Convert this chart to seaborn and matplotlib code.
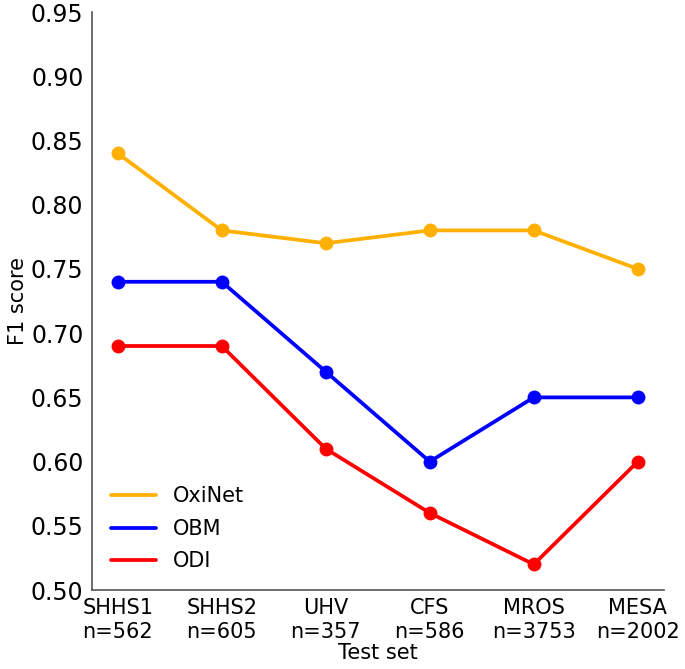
import pandas as pd
import matplotlib
matplotlib.use("Agg")
import matplotlib.pyplot as plt
import seaborn as sns
from matplotlib.lines import Line2D

# Dados
test_sets = ['SHHS1', 'SHHS2', 'UHV', 'CFS', 'MROS', 'MESA']
n_counts = [562, 605, 357, 586, 3753, 2002]
oxinet = [0.84, 0.78, 0.77, 0.78, 0.78, 0.75]
obm = [0.74, 0.74, 0.67, 0.60, 0.65, 0.65]
odi = [0.69, 0.69, 0.61, 0.56, 0.52, 0.60]

methods = ['OxiNet', 'OBM', 'ODI']
colors = ['#FFB000', '#0000FF', '#FF0000']

rows = []
for name, vals in zip(methods, [oxinet, obm, odi]):
    for i, v in enumerate(vals):
        rows.append({'idx': i, 'score': v, 'method': name})
df = pd.DataFrame(rows)

sns.set_style('white')
plt.rcParams['font.family'] = ['DejaVu Sans']
plt.rcParams['text.color'] = 'black'
plt.rcParams['axes.labelcolor'] = 'black'
plt.rcParams['xtick.color'] = 'black'
plt.rcParams['ytick.color'] = 'black'

fig = plt.figure(figsize=(6.85, 6.69), dpi=100)
ax = fig.add_axes([0.134, 0.118, 0.835, 0.864])

sns.lineplot(data=df, x='idx', y='score', hue='method', palette=colors,
             hue_order=methods, marker='o', markersize=10, markeredgewidth=0,
             linewidth=2.7, legend=False, ax=ax)

ax.set_ylim(0.50, 0.95)
ax.set_yticks([0.50 + 0.05 * k for k in range(10)])
ax.set_yticklabels([f'{0.50 + 0.05 * k:.2f}' for k in range(10)], fontsize=17)
ax.set_xticks(range(len(test_sets)))
ax.set_xticklabels([f'{t}\nn={n}' for t, n in zip(test_sets, n_counts)], fontsize=15,
                   linespacing=1.2)
ax.set_xlabel('Test set', fontsize=15, labelpad=1)
ax.set_ylabel('F1 score', fontsize=15, labelpad=2)
ax.tick_params(axis='both', direction='out', length=4, width=1, pad=2)

sns.despine(ax=ax)
for s in ['left', 'bottom']:
    ax.spines[s].set_color('#555555')
    ax.spines[s].set_linewidth(1.2)

handles = [Line2D([0], [0], color=c, lw=2.7) for c in colors]
ax.legend(handles, methods, loc='lower left', frameon=False, fontsize=15,
          bbox_to_anchor=(0.0, 0.0), handlelength=2.2, labelspacing=0.6)

fig.savefig('out.png', dpi=100, facecolor='white')
plt.close(fig)
